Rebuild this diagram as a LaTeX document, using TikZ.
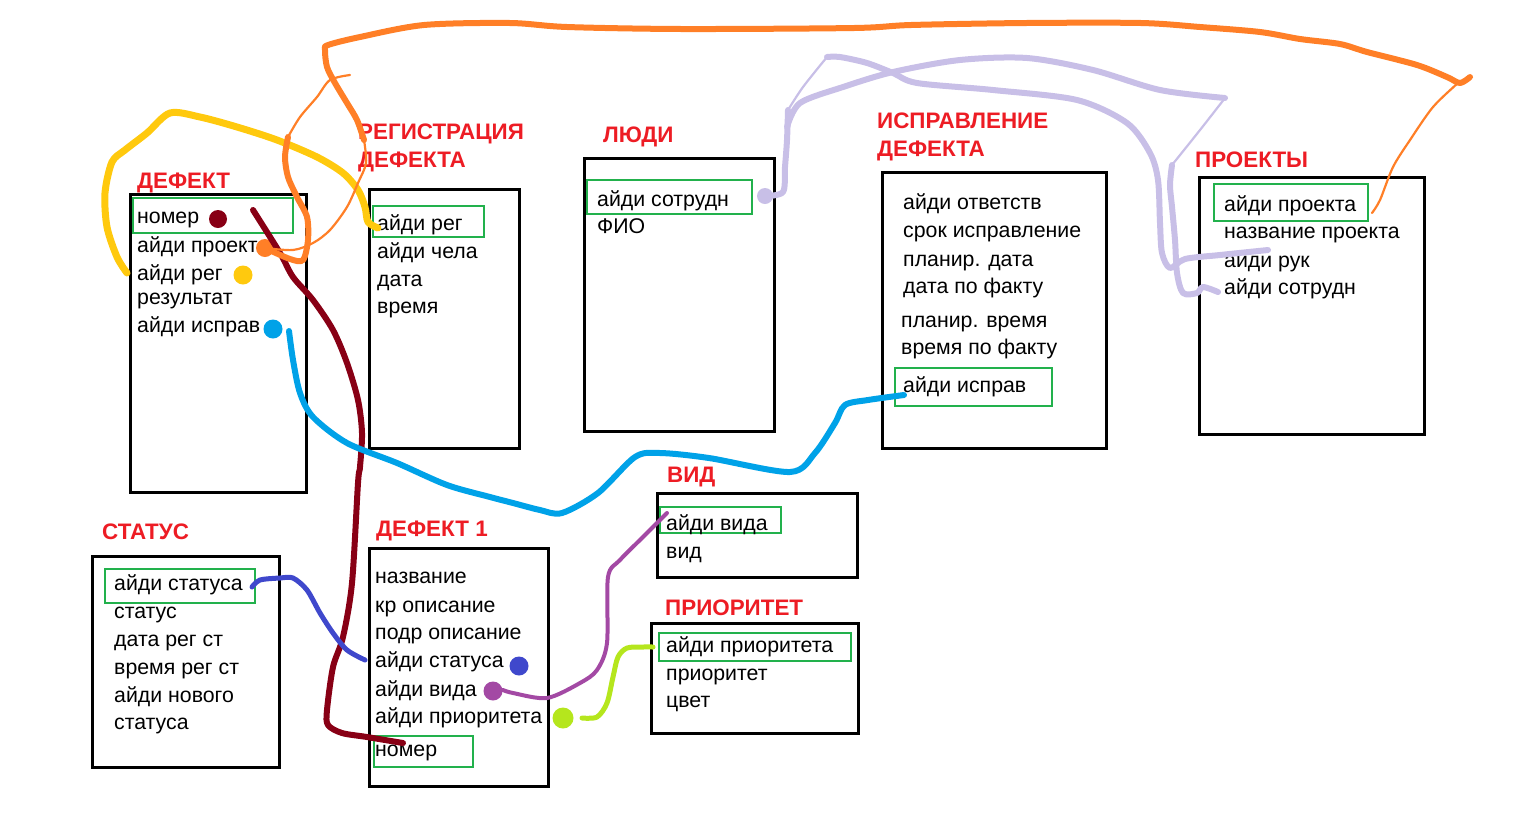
\documentclass[tikz,border=0pt]{standalone}
\usepackage{fontspec}
\setmainfont{Liberation Sans}
\definecolor{titlered}{HTML}{ED1C24}
\definecolor{keygreen}{HTML}{22B14C}
\definecolor{darkred}{HTML}{880015}
\definecolor{orangeline}{HTML}{FF7F27}
\definecolor{yellowline}{HTML}{FFC90E}
\definecolor{blueline}{HTML}{00A2E8}
\definecolor{lavender}{HTML}{C8BFE7}
\definecolor{indigo}{HTML}{3F48CC}
\definecolor{purpleline}{HTML}{A349A4}
\definecolor{limeline}{HTML}{B5E61D}

\begin{document}
\begin{tikzpicture}[x=1pt, y=-1pt,
  font=\fontsize{21.3}{25}\selectfont,
  title/.style={anchor=base west, inner sep=0pt, text=titlered, font=\fontsize{22.4}{26}\selectfont\bfseries},
  field/.style={anchor=base west, inner sep=0pt},
  tablebox/.style={draw, line width=3pt},
  keybox/.style={draw=keygreen, line width=2.8pt, inner sep=0pt},
  keydot/.style={circle, inner sep=0pt, minimum size=19pt},
  link/.style={line width=6pt, line cap=round, line join=round},
  thinlink/.style={line width=2.2pt, line cap=round, line join=round}]
  \useasboundingbox (0,0) rectangle (1522,823);

  % Tables
  \draw[tablebox] (130,194) rectangle (306,492);
  \draw[tablebox] (369,189) rectangle (519,448);
  \draw[tablebox] (584,158) rectangle (774,431);
  \draw[tablebox] (882,172) rectangle (1106,448);
  \draw[tablebox] (1199,177) rectangle (1424,434);
  \draw[tablebox] (92,556) rectangle (279,767);
  \draw[tablebox] (369,548) rectangle (548,786);
  \draw[tablebox] (657,493) rectangle (857,577);
  \draw[tablebox] (651,623) rectangle (858,733);

  % Keys
  \node[keybox, minimum width=160, minimum height=35] (defkey) at (213,215.5) {};
  \node[keybox, minimum width=111, minimum height=31] (regkey) at (428.5,221.5) {};
  \node[keybox, minimum width=165, minimum height=34] (ludikey) at (669.5,197) {};
  \node[keybox, minimum width=157, minimum height=38] (isprkey) at (973.5,387) {};
  \node[keybox, minimum width=154, minimum height=37] (projkey) at (1291,202.5) {};
  \node[keybox, minimum width=150, minimum height=34] (statkey) at (180,586) {};
  \node[keybox, minimum width=99, minimum height=31] (defonekey) at (423.5,751.5) {};
  \node[keybox, minimum width=121, minimum height=26] (vidkey) at (720.5,520) {};
  \node[keybox, minimum width=192, minimum height=28] (priokey) at (755,647) {};

  % Titles
  \node[title] (deftitle) at (137,188) {ДЕФЕКТ};
  \node[title] (regtitle) at (358,139) {РЕГИСТРАЦИЯ};
  \node[title] (regtitletwo) at (358,167) {ДЕФЕКТА};
  \node[title] (lyuditite) at (603,142) {ЛЮДИ};
  \node[title] (isprtitle) at (877,128) {ИСПРАВЛЕНИЕ};
  \node[title] (isprtitletwo) at (877,156) {ДЕФЕКТА};
  \node[title] (projtitle) at (1195,167) {ПРОЕКТЫ};
  \node[title] (stattitle) at (102,539) {СТАТУС};
  \node[title] (defonetitle) at (376,536) {ДЕФЕКТ 1};
  \node[title] (vidtitle) at (667,482) {ВИД};
  \node[title] (priotitle) at (665,615) {ПРИОРИТЕТ};

  % Fields
  \node[field] (defnomer) at (137,223) {номер};
  \node[field] (defproj) at (137,252) {айди проект};
  \node[field] (defreg) at (137,280) {айди рег};
  \node[field] (defres) at (137,304) {результат};
  \node[field] (defispr) at (137,332) {айди исправ};

  \node[field] (regid) at (377,230) {айди рег};
  \node[field] (regchel) at (377,258) {айди чела};
  \node[field] (regdata) at (377,286) {дата};
  \node[field] (regvrem) at (377,313) {время};

  \node[field] (ludiid) at (597,206) {айди сотрудн};
  \node[field] (ludifio) at (597,233) {ФИО};

  \node[field] (isprotv) at (903,209) {айди ответств};
  \node[field] (isprsrok) at (903,237) {срок исправление};
  \node[field] (isprpldata) at (903,266) {планир. дата};
  \node[field] (isprfdata) at (903,293) {дата по факту};
  \node[field] (isprplvrem) at (901,327) {планир. время};
  \node[field] (isprfvrem) at (901,354) {время по факту};
  \node[field] (isprid) at (903,392) {айди исправ};

  \node[field] (projid) at (1224,211) {айди проекта};
  \node[field] (projname) at (1224,238) {название проекта};
  \node[field] (projruk) at (1224,267) {айди рук};
  \node[field] (projsotr) at (1224,294) {айди сотрудн};

  \node[field] (statid) at (114,590) {айди статуса};
  \node[field] (statname) at (114,618) {статус};
  \node[field] (statdata) at (114,646) {дата рег ст};
  \node[field] (statvrem) at (114,674) {время рег ст};
  \node[field] (statnew) at (114,702) {айди нового};
  \node[field] (statnewtwo) at (114,729) {статуса};

  \node[field] (defonename) at (375,583) {название};
  \node[field] (defonekr) at (375,612) {кр описание};
  \node[field] (defonepodr) at (375,639) {подр описание};
  \node[field] (defonestat) at (375,667) {айди статуса};
  \node[field] (defonevid) at (375,696) {айди вида};
  \node[field] (defoneprio) at (375,723) {айди приоритета};
  \node[field] (defonenomer) at (375,756) {номер};

  \node[field] (vidid) at (666,530) {айди вида};
  \node[field] (vidname) at (666,558) {вид};

  \node[field] (prioid) at (666,652) {айди приоритета};
  \node[field] (prioname) at (666,680) {приоритет};
  \node[field] (priocolor) at (666,707) {цвет};

  % Dots
  \node[keydot, fill=darkred, minimum size=18pt] (nomerdot) at (218,219) {};
  \node[keydot, fill=orangeline, minimum size=18pt] (projdot) at (265,248) {};
  \node[keydot, fill=yellowline] (regdot) at (243,275) {};
  \node[keydot, fill=blueline] (isprdot) at (273,329) {};
  \node[keydot, fill=lavender, minimum size=16pt] (ludidot) at (765,196) {};
  \node[keydot, fill=indigo] (statdot) at (519,666) {};
  \node[keydot, fill=purpleline] (viddot) at (493,691) {};
  \node[keydot, fill=limeline, minimum size=21pt] (priodot) at (563,718) {};

  % Ends
  \coordinate (nomerfrom) at (253,210);
  \coordinate (nomerto) at (403,743);
  \coordinate (isprfrom) at (289,331);
  \coordinate (isprto) at (904,395);
  \coordinate (regfrom) at (127,273);
  \coordinate (regto) at (378,228);
  \coordinate (projto) at (1372,213);
  \coordinate (rukto) at (1268,250);
  \coordinate (sotrto) at (1218,292);
  \coordinate (statfrom) at (252,587);
  \coordinate (statto) at (365,660);
  \coordinate (vidfrom) at (503,690);
  \coordinate (vidto) at (667,513);
  \coordinate (priofrom) at (582,718);
  \coordinate (prioto) at (653,647);

  % Edges
  \draw[link, darkred] plot[smooth, tension=0.5] coordinates {(nomerfrom) (280,253) (293,277) (313,300) (333,330) (347,363) (358,400) (362,433) (360,467) (358,483) (352,583) (343,637) (333,667) (327,710) (328,725) (342,733) (367,737) (nomerto)};
  \draw[link, blueline] plot[smooth, tension=0.5] coordinates {(isprfrom) (293,360) (300,393) (313,417) (347,443) (397,463) (447,485) (490,497) (513,503) (540,510) (562,513) (598,493) (635,457) (660,453) (709,458) (790,472) (815,453) (835,423) (845,405) (868,400) (isprto)};
  \draw[link, yellowline, line width=7pt] plot[smooth, tension=0.5] coordinates {(regfrom) (117,257) (107,227) (105,193) (112,162) (125,150) (147,133) (170,113) (200,117) (237,127) (277,140) (317,157) (343,173) (358,190) (365,207) (368,222) (regto)};
  \draw[link, orangeline] plot[smooth, tension=0.5] coordinates {(projdot) (290,259) (303,260) (308,240) (307,217) (297,197) (288,177) (285,157) (288,137)};
  \draw[thinlink, orangeline] plot[smooth, tension=0.5] coordinates {(288,137) (300,117) (317,97) (330,80) (350,75)};
  \draw[link, orangeline] plot[smooth, tension=0.5] coordinates {(364,140) (357,120) (347,103) (335,83) (327,67) (325,50) (328,45) (360,37) (424,25) (510,23) (567,27) (682,29) (854,28) (911,25) (1026,23) (1141,23) (1200,27) (1260,32) (1300,39) (1340,44) (1367,52) (1417,65) (1447,77) (1460,83) (1470,77)};
  \draw[thinlink, orangeline] plot[smooth, tension=0.5] coordinates {(364,140) (366,163) (358,183) (347,207) (330,230) (313,243) (293,250) (projdot)};
  \draw[thinlink, orangeline] plot[smooth, tension=0.5] coordinates {(1458,83) (1433,107) (1410,140) (1393,167) (1380,200) (projto)};
  \draw[link, lavender] plot[smooth, tension=0.5] coordinates {(ludidot) (783,192) (785,167) (787,140) (788,110)};
  \draw[thinlink, lavender] plot[smooth, tension=0.5] coordinates {(788,110) (803,87) (827,57)};
  \draw[link, lavender] plot[smooth, tension=0.5] coordinates {(827,57) (840,57) (867,63) (893,73) (917,83) (993,90) (1077,100) (1127,123) (1150,153) (1158,180) (1160,223) (1162,253) (1170,268) (1185,259) (1220,255) (rukto)};
  \draw[link, lavender] plot[smooth, tension=0.5] coordinates {(787,127) (800,103) (843,87) (893,72) (960,60) (1027,58) (1093,70) (1160,90) (1225,98)};
  \draw[thinlink, lavender] plot[smooth, tension=0.5] coordinates {(1225,98) (1200,130) (1172,165)};
  \draw[link, lavender] plot[smooth, tension=0.5] coordinates {(1172,165) (1170,185) (1172,207) (1175,240) (1177,273) (1183,293) (1197,293) (1203,287) (sotrto)};
  \draw[link, indigo, line width=5pt] plot[smooth, tension=0.5] coordinates {(statfrom) (260,580) (280,578) (293,578) (307,590) (320,613) (333,633) (347,650) (statto)};
  \draw[link, purpleline, line width=4pt] plot[smooth, tension=0.5] coordinates {(vidfrom) (513,693) (547,698) (580,683) (597,670) (607,643) (608,577) (620,560) (643,537) (653,527) (vidto)};
  \draw[link, limeline, line width=5pt] plot[smooth, tension=0.5] coordinates {(priofrom) (597,717) (607,703) (613,677) (618,657) (627,648) (643,647) (prioto)};
\end{tikzpicture}
\end{document}
